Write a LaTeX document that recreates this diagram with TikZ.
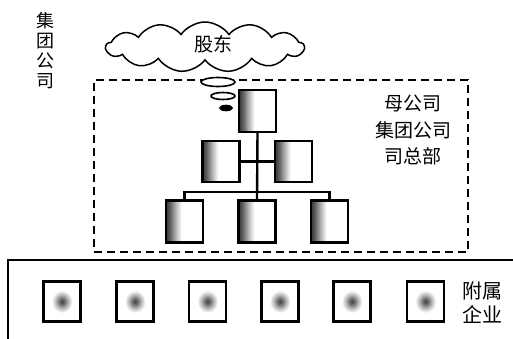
\documentclass[tikz,border=0pt]{standalone}
\usepackage{fontspec}
\newfontfamily\cjk{Noto Sans CJK SC}
\usetikzlibrary{shapes.symbols,shapes.geometric}
\pgfdeclarehorizontalshading{boxshade}{100bp}{color(0bp)=(black!80); color(25bp)=(black!80); color(31bp)=(black!60); color(38bp)=(black!30); color(46bp)=(white); color(100bp)=(white)}
\pgfdeclareradialshading{blobshade}{\pgfpoint{0bp}{0bp}}{color(0bp)=(black!75); color(4bp)=(black!55); color(9bp)=(black!25); color(14bp)=(white); color(50bp)=(white)}
\begin{document}
\begin{tikzpicture}[x=1pt,y=-1pt,
  orgbox/.style={draw, line width=2.4pt, minimum width=37pt, minimum height=42pt, inner sep=0pt, fill=white,
    path picture={\shade[shading=boxshade]
      (path picture bounding box.south west) rectangle (path picture bounding box.north east);}},
  subbox/.style={draw, line width=2.5pt, minimum width=37pt, minimum height=40pt, inner sep=0pt, fill=white,
    path picture={\shade[shading=blobshade]
      (path picture bounding box.south west) rectangle (path picture bounding box.north east);}},
  lbl/.style={font=\cjk\fontsize{18}{20}\selectfont, align=center, inner sep=0pt},
  conn/.style={line width=2.4pt},
  bubble/.style={ellipse, draw, line width=1.6pt, fill=white, inner sep=0pt}]
\useasboundingbox (0,0) rectangle (513,339);
% labels
\node[lbl] (jt) at (45,51) {集\\团\\公\\司};
% cloud
\node[cloud, draw, line width=1.5pt, cloud puffs=13, cloud puff arc=110, aspect=4,
  minimum width=198pt, minimum height=50pt, inner sep=0pt] (cloud) at (205,47) {};
\node[lbl, font=\cjk\fontsize{19}{20}\selectfont] (gd) at (213,44) {股东};
% dashed headquarters frame
\node[draw, dash pattern=on 8pt off 5pt, line width=1.3pt, minimum width=374pt, minimum height=172pt, inner sep=0pt] (hq) at (281,166) {};
\node[lbl, font=\cjk\fontsize{19}{26.5}\selectfont] (hqt) at (413,130) {母公司\\集团公司\\司总部};
% thought bubbles
\node[bubble, minimum width=34pt, minimum height=9pt] (e1) at (218,82) {};
\node[bubble, minimum width=24pt, minimum height=7pt] (e2) at (223,96) {};
\node[bubble, fill=black, minimum width=12pt, minimum height=5pt] (e3) at (226,108) {};
% org chart
\node[orgbox] (top) at (257.5,111) {};
\node[orgbox, minimum height=41pt] (ml) at (221,161.5) {};
\node[orgbox, minimum height=41pt] (mr) at (293.5,161.5) {};
\node[orgbox] (bl) at (184.5,221.5) {};
\node[orgbox] (bm) at (257,221.5) {};
\node[orgbox] (br) at (329.5,221.5) {};
\coordinate (busl) at (bl.north |- 0,192);
\coordinate (busr) at (br.north |- 0,192);
\draw[conn] (top.south) -- (bm.north);
\draw[conn] (ml.east) -- (mr.west);
\draw[conn] (bl.north) -- (busl) -- (busr) -- (br.north);
% subsidiaries frame
\draw[line width=1.3pt] (513,260) -- (8,260) -- (8,339);
\foreach \i/\x in {1/62,2/135,3/207.5,4/280,5/352,6/425.5}
  \node[subbox] (s\i) at (\x,301.5) {};
\node[lbl, font=\cjk\fontsize{20}{24}\selectfont] (fs) at (482,303) {附属\\企业};
\end{tikzpicture}
\end{document}
